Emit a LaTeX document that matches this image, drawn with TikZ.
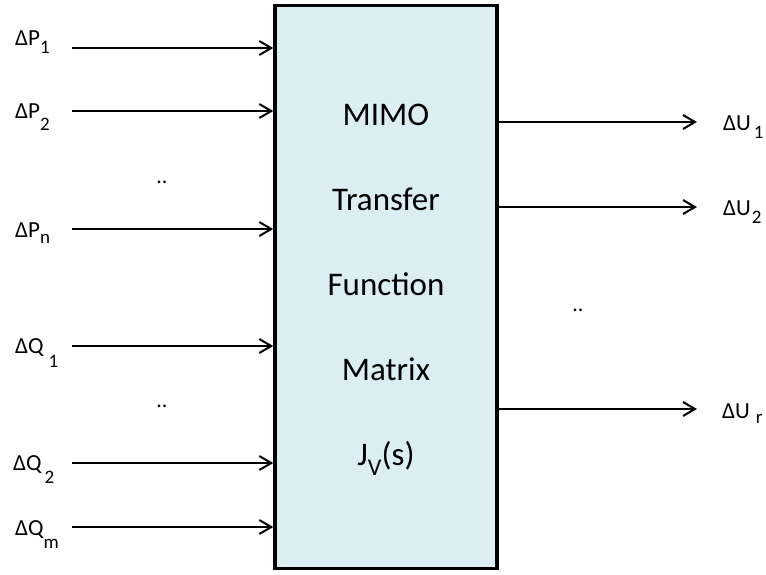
\documentclass[tikz,border=0pt]{standalone}
\usepackage{fontspec}
\setmainfont{Carlito}
\usepackage{xcolor}
\usepackage{tikz}
\usetikzlibrary{arrows.meta}

\definecolor{boxblue}{HTML}{DAEEF3}

% signal label: main letter, subscript, gap before subscript, drop of subscript
\newcommand{\sig}[4]{Δ#1\hspace{#3}\raisebox{-#4}{\fontsize{19}{19}\selectfont #2}}

\tikzset{
  tfbox/.style={draw, line width=3.5pt, fill=boxblue, minimum width=222pt, minimum height=563pt, inner sep=0pt},
  sigline/.style={line width=2pt, -{Straight Barb[length=12pt,width=14pt]}},
  lbl/.style={anchor=base west, inner sep=0pt, font=\fontsize{23}{23}\selectfont},
  boxtxt/.style={anchor=base, inner sep=0pt, font=\fontsize{33}{33}\selectfont},
  dotstxt/.style={anchor=base, inner sep=0pt, font=\fontsize{22}{22}\selectfont}
}

\begin{document}
\begin{tikzpicture}[x=1pt,y=-1pt]
    \useasboundingbox (0,0) rectangle (766,574);

    % Transfer function block
    \node[tfbox] (tf) at (386,287) {};
    \foreach \txt [count=\i] in {MIMO,Transfer,Function,Matrix,{J\raisebox{-10pt}{\fontsize{24}{24}\selectfont V}(s)}}
        \node[boxtxt] (t\i) at (386,{125+85*(\i-1)}) {\txt};

    % Inputs
    \node[lbl] (p1) at (15,45)  {\sig{P}{1}{0pt}{8pt}};
    \node[lbl] (p2) at (15,118) {\sig{P}{2}{0pt}{12pt}};
    \node[lbl] (pn) at (15,237) {\sig{P}{n}{0pt}{6pt}};
    \node[lbl] (q1) at (15,353) {\sig{Q}{1}{5pt}{14pt}};
    \node[lbl] (q2) at (13,470) {\sig{Q}{2}{3pt}{13pt}};
    \node[lbl] (qm) at (15,535) {\sig{Q}{m}{0pt}{13pt}};

    \coordinate (inp1) at (72,48);
    \coordinate (inp2) at (72,111);
    \coordinate (inpn) at (72,229);
    \coordinate (inq1) at (72,346);
    \coordinate (inq2) at (72,463);
    \coordinate (inqm) at (72,527);
    \foreach \c in {inp1,inp2,inpn,inq1,inq2,inqm}
        \draw[sigline] (\c) -- (\c -| tf.west);

    \node[dotstxt] (ldots1) at (162,183) {..};
    \node[dotstxt] (ldots2) at (162,407) {..};

    % Outputs
    \coordinate (outu1) at (697,122);
    \coordinate (outu2) at (697,207);
    \coordinate (outur) at (697,409);
    \foreach \c in {outu1,outu2,outur}
        \draw[sigline] (\c -| tf.east) -- (\c);

    \node[lbl] (u1) at (723,130) {\sig{U}{1}{3pt}{8pt}};
    \node[lbl] (u2) at (723,215) {\sig{U}{2}{1pt}{8pt}};
    \node[lbl] (ur) at (722,418) {\sig{U}{r}{6pt}{5pt}};

    \node[dotstxt] (rdots) at (578,311) {..};
\end{tikzpicture}
\end{document}
